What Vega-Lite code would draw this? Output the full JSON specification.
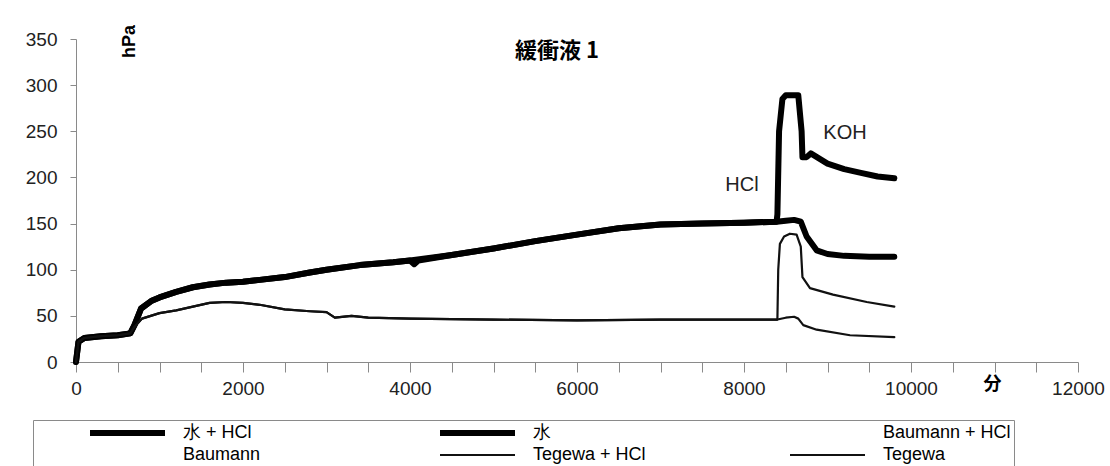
{
  "$schema": "https://vega.github.io/schema/vega-lite/v6.json",
  "width": 1002,
  "height": 323,
  "autosize": {"type": "none"},
  "padding": {"left": 76, "top": 39, "right": 32, "bottom": 104},
  "background": "white",
  "config": {"view": {"stroke": null}},
  "title": {"text": "緩衝液 1", "font": "Noto Sans CJK JP", "fontSize": 22, "fontWeight": "bold", "color": "black", "anchor": "middle", "baseline": "middle", "dx": -20, "offset": -49},
  "layer": [
    {
      "data": {"values": [
        {"t": 0, "p": 0, "s": "水 + HCl"}, {"t": 30, "p": 22, "s": "水 + HCl"}, {"t": 100, "p": 26, "s": "水 + HCl"}, {"t": 300, "p": 28, "s": "水 + HCl"}, {"t": 500, "p": 29, "s": "水 + HCl"}, {"t": 650, "p": 31, "s": "水 + HCl"}, {"t": 700, "p": 40, "s": "水 + HCl"}, {"t": 780, "p": 58, "s": "水 + HCl"}, {"t": 900, "p": 66, "s": "水 + HCl"}, {"t": 1000, "p": 70, "s": "水 + HCl"}, {"t": 1200, "p": 76, "s": "水 + HCl"}, {"t": 1400, "p": 81, "s": "水 + HCl"}, {"t": 1600, "p": 84, "s": "水 + HCl"}, {"t": 1800, "p": 86, "s": "水 + HCl"}, {"t": 2000, "p": 87, "s": "水 + HCl"}, {"t": 2200, "p": 89, "s": "水 + HCl"}, {"t": 2500, "p": 92, "s": "水 + HCl"}, {"t": 2800, "p": 97, "s": "水 + HCl"}, {"t": 3000, "p": 100, "s": "水 + HCl"}, {"t": 3400, "p": 105, "s": "水 + HCl"}, {"t": 3800, "p": 108, "s": "水 + HCl"}, {"t": 4000, "p": 110, "s": "水 + HCl"}, {"t": 4050, "p": 106, "s": "水 + HCl"}, {"t": 4100, "p": 110, "s": "水 + HCl"}, {"t": 4500, "p": 116, "s": "水 + HCl"}, {"t": 5000, "p": 123, "s": "水 + HCl"}, {"t": 5500, "p": 131, "s": "水 + HCl"}, {"t": 6000, "p": 138, "s": "水 + HCl"}, {"t": 6500, "p": 145, "s": "水 + HCl"}, {"t": 7000, "p": 149, "s": "水 + HCl"}, {"t": 7500, "p": 150, "s": "水 + HCl"}, {"t": 8000, "p": 151, "s": "水 + HCl"}, {"t": 8390, "p": 152, "s": "水 + HCl"}, {"t": 8400, "p": 160, "s": "水 + HCl"}, {"t": 8420, "p": 250, "s": "水 + HCl"}, {"t": 8460, "p": 285, "s": "水 + HCl"}, {"t": 8500, "p": 289, "s": "水 + HCl"}, {"t": 8650, "p": 289, "s": "水 + HCl"}, {"t": 8690, "p": 250, "s": "水 + HCl"}, {"t": 8700, "p": 222, "s": "水 + HCl"}, {"t": 8750, "p": 222, "s": "水 + HCl"}, {"t": 8800, "p": 226, "s": "水 + HCl"}, {"t": 9000, "p": 215, "s": "水 + HCl"}, {"t": 9200, "p": 209, "s": "水 + HCl"}, {"t": 9400, "p": 205, "s": "水 + HCl"}, {"t": 9600, "p": 201, "s": "水 + HCl"}, {"t": 9800, "p": 199, "s": "水 + HCl"},

        {"t": 0, "p": 0, "s": "水"}, {"t": 30, "p": 22, "s": "水"}, {"t": 100, "p": 26, "s": "水"}, {"t": 300, "p": 28, "s": "水"}, {"t": 500, "p": 29, "s": "水"}, {"t": 650, "p": 31, "s": "水"}, {"t": 700, "p": 40, "s": "水"}, {"t": 780, "p": 58, "s": "水"}, {"t": 900, "p": 66, "s": "水"}, {"t": 1000, "p": 70, "s": "水"}, {"t": 1200, "p": 76, "s": "水"}, {"t": 1400, "p": 81, "s": "水"}, {"t": 1600, "p": 84, "s": "水"}, {"t": 1800, "p": 86, "s": "水"}, {"t": 2000, "p": 87, "s": "水"}, {"t": 2200, "p": 89, "s": "水"}, {"t": 2500, "p": 92, "s": "水"}, {"t": 2800, "p": 97, "s": "水"}, {"t": 3000, "p": 100, "s": "水"}, {"t": 3400, "p": 105, "s": "水"}, {"t": 3800, "p": 108, "s": "水"}, {"t": 4000, "p": 110, "s": "水"}, {"t": 4500, "p": 116, "s": "水"}, {"t": 5000, "p": 123, "s": "水"}, {"t": 5500, "p": 131, "s": "水"}, {"t": 6000, "p": 138, "s": "水"}, {"t": 6500, "p": 145, "s": "水"}, {"t": 7000, "p": 149, "s": "水"}, {"t": 7500, "p": 150, "s": "水"}, {"t": 8000, "p": 151, "s": "水"}, {"t": 8390, "p": 152, "s": "水"}, {"t": 8500, "p": 153, "s": "水"}, {"t": 8600, "p": 154, "s": "水"}, {"t": 8680, "p": 152, "s": "水"}, {"t": 8750, "p": 136, "s": "水"}, {"t": 8870, "p": 121, "s": "水"}, {"t": 9000, "p": 117, "s": "水"}, {"t": 9200, "p": 115, "s": "水"}, {"t": 9500, "p": 114, "s": "水"}, {"t": 9800, "p": 114, "s": "水"},

        {"t": 0, "p": 0, "s": "Tegewa + HCl"}, {"t": 30, "p": 22, "s": "Tegewa + HCl"}, {"t": 100, "p": 26, "s": "Tegewa + HCl"}, {"t": 300, "p": 28, "s": "Tegewa + HCl"}, {"t": 500, "p": 29, "s": "Tegewa + HCl"}, {"t": 650, "p": 31, "s": "Tegewa + HCl"}, {"t": 700, "p": 38, "s": "Tegewa + HCl"}, {"t": 790, "p": 47, "s": "Tegewa + HCl"}, {"t": 1000, "p": 53, "s": "Tegewa + HCl"}, {"t": 1200, "p": 56, "s": "Tegewa + HCl"}, {"t": 1400, "p": 60, "s": "Tegewa + HCl"}, {"t": 1600, "p": 64, "s": "Tegewa + HCl"}, {"t": 1800, "p": 65, "s": "Tegewa + HCl"}, {"t": 2000, "p": 64, "s": "Tegewa + HCl"}, {"t": 2200, "p": 62, "s": "Tegewa + HCl"}, {"t": 2500, "p": 57, "s": "Tegewa + HCl"}, {"t": 2800, "p": 55, "s": "Tegewa + HCl"}, {"t": 3000, "p": 54, "s": "Tegewa + HCl"}, {"t": 3100, "p": 48, "s": "Tegewa + HCl"}, {"t": 3300, "p": 50, "s": "Tegewa + HCl"}, {"t": 3500, "p": 48, "s": "Tegewa + HCl"}, {"t": 4000, "p": 47, "s": "Tegewa + HCl"}, {"t": 5000, "p": 46, "s": "Tegewa + HCl"}, {"t": 6000, "p": 45, "s": "Tegewa + HCl"}, {"t": 7000, "p": 46, "s": "Tegewa + HCl"}, {"t": 8000, "p": 46, "s": "Tegewa + HCl"}, {"t": 8400, "p": 46, "s": "Tegewa + HCl"}, {"t": 8410, "p": 100, "s": "Tegewa + HCl"}, {"t": 8430, "p": 128, "s": "Tegewa + HCl"}, {"t": 8480, "p": 136, "s": "Tegewa + HCl"}, {"t": 8550, "p": 139, "s": "Tegewa + HCl"}, {"t": 8630, "p": 138, "s": "Tegewa + HCl"}, {"t": 8680, "p": 125, "s": "Tegewa + HCl"}, {"t": 8700, "p": 92, "s": "Tegewa + HCl"}, {"t": 8790, "p": 80, "s": "Tegewa + HCl"}, {"t": 9066, "p": 73, "s": "Tegewa + HCl"}, {"t": 9470, "p": 65, "s": "Tegewa + HCl"}, {"t": 9800, "p": 60, "s": "Tegewa + HCl"},

        {"t": 0, "p": 0, "s": "Tegewa"}, {"t": 30, "p": 22, "s": "Tegewa"}, {"t": 100, "p": 26, "s": "Tegewa"}, {"t": 300, "p": 28, "s": "Tegewa"}, {"t": 500, "p": 29, "s": "Tegewa"}, {"t": 650, "p": 31, "s": "Tegewa"}, {"t": 700, "p": 38, "s": "Tegewa"}, {"t": 790, "p": 47, "s": "Tegewa"}, {"t": 1000, "p": 53, "s": "Tegewa"}, {"t": 1200, "p": 56, "s": "Tegewa"}, {"t": 1400, "p": 60, "s": "Tegewa"}, {"t": 1600, "p": 64, "s": "Tegewa"}, {"t": 1800, "p": 65, "s": "Tegewa"}, {"t": 2000, "p": 64, "s": "Tegewa"}, {"t": 2200, "p": 62, "s": "Tegewa"}, {"t": 2500, "p": 57, "s": "Tegewa"}, {"t": 2800, "p": 55, "s": "Tegewa"}, {"t": 3000, "p": 54, "s": "Tegewa"}, {"t": 3100, "p": 48, "s": "Tegewa"}, {"t": 3300, "p": 50, "s": "Tegewa"}, {"t": 3500, "p": 48, "s": "Tegewa"}, {"t": 4000, "p": 47, "s": "Tegewa"}, {"t": 5000, "p": 46, "s": "Tegewa"}, {"t": 6000, "p": 45, "s": "Tegewa"}, {"t": 7000, "p": 46, "s": "Tegewa"}, {"t": 8000, "p": 46, "s": "Tegewa"}, {"t": 8400, "p": 46, "s": "Tegewa"}, {"t": 8500, "p": 48, "s": "Tegewa"}, {"t": 8600, "p": 49, "s": "Tegewa"}, {"t": 8650, "p": 47, "s": "Tegewa"}, {"t": 8710, "p": 40, "s": "Tegewa"}, {"t": 8870, "p": 35, "s": "Tegewa"}, {"t": 9270, "p": 29, "s": "Tegewa"}, {"t": 9800, "p": 27, "s": "Tegewa"}
      ]},
      "mark": {"type": "line", "strokeJoin": "round", "strokeCap": "round"},
      "encoding": {
        "x": {"field": "t", "type": "quantitative", "scale": {"domain": [0, 12000], "nice": false, "zero": false},
          "axis": {"orient": "bottom", "values": [0, 500, 1000, 1500, 2000, 2500, 3000, 3500, 4000, 4500, 5000, 5500, 6000, 6500, 7000, 7500, 8000, 8500, 9000, 9500, 10000, 10500, 11000, 11500, 12000], "format": "d", "labelExpr": "datum.value % 2000 === 0 ? datum.label : ''", "tickSize": 10, "grid": false, "labelFont": "Liberation Sans", "labelFontSize": 19, "labelColor": "#222", "labelPadding": 7, "labelFlush": false, "labelOverlap": false, "domainColor": "#8a8a8a", "tickColor": "#8a8a8a", "title": "分", "titleFont": "Noto Sans CJK JP", "titleFontSize": 18, "titleFontWeight": "bold", "titleColor": "black", "titleX": 916, "titleY": 22, "titleBaseline": "middle", "titleAlign": "center",
            "encode": {"ticks": {"update": {"y": {"value": -6}, "y2": {"signal": "datum.value % 2000 === 0 ? 10 : 0"}}}}}},
        "y": {"field": "p", "type": "quantitative", "scale": {"domain": [0, 350], "nice": false},
          "axis": {"orient": "left", "values": [0, 50, 100, 150, 200, 250, 300, 350], "format": "d", "tickSize": 6, "grid": false, "labelFont": "Liberation Sans", "labelFontSize": 19, "labelColor": "#222", "labelPadding": 13, "labelFlush": false, "labelOverlap": false, "domainColor": "#8a8a8a", "tickColor": "#8a8a8a", "title": "hPa", "titleFont": "Liberation Sans", "titleFontSize": 18, "titleFontWeight": "bold", "titleColor": "black", "titleAngle": 270, "titleX": 53, "titleY": 2, "titleBaseline": "middle", "titleAlign": "center",
            "encode": {"ticks": {"update": {"x": {"value": 6}, "x2": {"value": -6}}}}}},
        "color": {"field": "s", "type": "nominal",
          "scale": {"type": "ordinal", "domain": ["水 + HCl", "水", "Baumann + HCl", "Baumann", "Tegewa + HCl", "Tegewa"], "range": ["#000000", "#000000", "#ffffff", "#ffffff", "#111111", "#111111"]},
          "legend": {"orient": "none", "legendX": -43, "legendY": 381, "direction": "horizontal", "columns": 3, "gridAlign": "all", "title": null, "symbolType": "stroke", "symbolSize": 5625, "clipHeight": 20, "labelFont": "Liberation Sans", "labelFontSize": 18, "labelColor": "black", "symbolOffset": 51, "labelOffset": 15, "columnPadding": 75, "rowPadding": 2, "padding": 3, "strokeColor": "#8a8a8a"}},
        "strokeWidth": {"field": "s", "type": "nominal",
          "scale": {"type": "ordinal", "domain": ["水 + HCl", "水", "Baumann + HCl", "Baumann", "Tegewa + HCl", "Tegewa"], "range": [6, 6, 1, 1, 2.2, 2.2]},
          "legend": {"orient": "none", "legendX": -43, "legendY": 381, "direction": "horizontal", "columns": 3, "gridAlign": "all", "title": null, "symbolType": "stroke", "symbolSize": 5625, "clipHeight": 20, "labelFont": "Liberation Sans", "labelFontSize": 18, "labelColor": "black", "symbolOffset": 51, "labelOffset": 15, "columnPadding": 75, "rowPadding": 2, "padding": 3, "strokeColor": "#8a8a8a"}}
      }
    },
    {
      "data": {"values": [
        {"t": 7976, "p": 192, "label": "HCl"},
        {"t": 9210, "p": 248, "label": "KOH"}
      ]},
      "mark": {"type": "text", "font": "Liberation Sans", "fontSize": 20, "color": "#222"},
      "encoding": {
        "x": {"field": "t", "type": "quantitative"},
        "y": {"field": "p", "type": "quantitative"},
        "text": {"field": "label"}
      }
    }
  ]
}
